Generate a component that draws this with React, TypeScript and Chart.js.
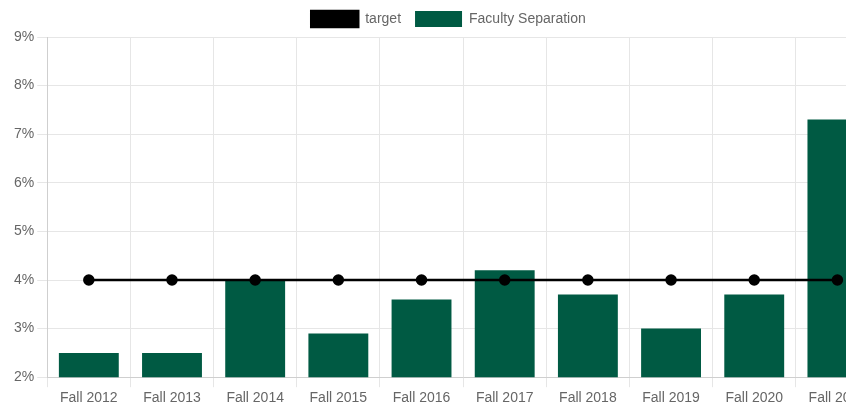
import React, { useEffect, useRef } from "react";
import { Chart, registerables } from "chart.js";

Chart.register(...registerables);

const categories = ["Fall 2012", "Fall 2013", "Fall 2014", "Fall 2015", "Fall 2016", "Fall 2017", "Fall 2018", "Fall 2019", "Fall 2020", "Fall 2021"];
const separation = [2.5, 2.5, 4.0, 2.9, 3.6, 4.2, 3.7, 3.0, 3.7, 7.3];
const target = [4, 4, 4, 4, 4, 4, 4, 4, 4, 4];

export default function App() {
  const ref = useRef<HTMLCanvasElement | null>(null);
  useEffect(() => {
    if (!ref.current) return;
    const font = { family: "'Liberation Sans', Arial, Helvetica, sans-serif", size: 14 };
    const chart = new Chart(ref.current, {
      data: {
        labels: categories,
        datasets: [
          {
            type: "line",
            label: "target",
            data: target,
            borderColor: "#000000",
            backgroundColor: "#000000",
            borderWidth: 2.5,
            pointRadius: 4.5,
            pointBackgroundColor: "#000000",
            fill: false,
          },
          {
            type: "bar",
            label: "Faculty Separation",
            data: separation,
            backgroundColor: "#005a43",
            borderWidth: 0,
          },
        ],
      },
      options: {
        responsive: false,
        animation: false,
        layout: { padding: { left: 3 } },
        plugins: {
          legend: {
            labels: { font, color: "#666", boxWidth: 47, boxHeight: 16, padding: 14 },
          },
          tooltip: { enabled: false },
        },
        scales: {
          x: {
            ticks: { font, color: "#666" },
            grid: { color: "#e6e6e6", tickLength: 10 },
            border: { color: "#cfcfcf" },
          },
          y: {
            min: 2,
            max: 9,
            ticks: { stepSize: 1, font, color: "#666", callback: (v: any) => v + "%" },
            grid: { color: "#e6e6e6", tickLength: 10 },
            border: { color: "#cfcfcf" },
          },
        },
      },
    });
    return () => chart.destroy();
  }, []);
  return <canvas ref={ref} width={878} height={413} style={{ display: "block", marginTop: -11 }} />;
}
